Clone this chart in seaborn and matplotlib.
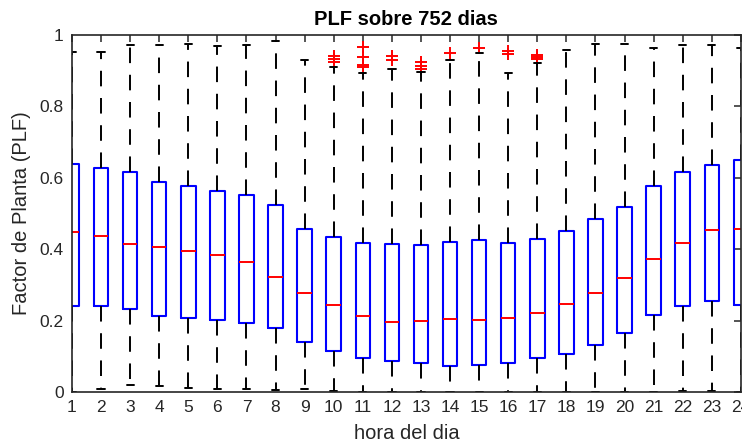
import numpy as np
import pandas as pd
import matplotlib
matplotlib.use("Agg")
import matplotlib.pyplot as plt
import seaborn as sns

# ------------------ DATA ------------------
hours = list(range(1, 25))
q1 = [0.241, 0.241, 0.233, 0.214, 0.208, 0.201, 0.193, 0.178, 0.140, 0.116, 0.094, 0.087,
      0.082, 0.073, 0.075, 0.082, 0.096, 0.106, 0.133, 0.166, 0.217, 0.240, 0.254, 0.244]
median = [0.447, 0.436, 0.414, 0.405, 0.394, 0.383, 0.364, 0.321, 0.276, 0.243, 0.214, 0.197,
          0.200, 0.205, 0.201, 0.207, 0.222, 0.246, 0.277, 0.320, 0.372, 0.417, 0.454, 0.456]
q3 = [0.639, 0.627, 0.617, 0.588, 0.577, 0.564, 0.553, 0.523, 0.457, 0.433, 0.418, 0.415,
      0.412, 0.419, 0.427, 0.418, 0.429, 0.451, 0.485, 0.519, 0.577, 0.616, 0.637, 0.651]
whisk_lo = [0.0, 0.008, 0.020, 0.016, 0.012, 0.008, 0.008, 0.006, 0.008, 0.003, 0.0, 0.0,
            0.0, 0.0, 0.0, 0.0, 0.0, 0.0, 0.0, 0.0, 0.0, 0.004, 0.004, 0.0]
whisk_hi = [0.953, 0.951, 0.972, 0.971, 0.974, 0.968, 0.973, 0.984, 0.930, 0.909, 0.892, 0.905,
            0.895, 0.931, 0.950, 0.892, 0.920, 0.958, 0.974, 0.974, 0.962, 0.972, 0.971, 0.962]

out_hours = [10, 10, 10, 11, 11, 11, 11, 12, 12, 13, 13, 13, 14, 15, 16, 16, 17, 17, 17]
out_vals = [0.941, 0.933, 0.925, 0.967, 0.939, 0.916, 0.911, 0.941, 0.930, 0.925, 0.914, 0.904,
            0.949, 0.963, 0.955, 0.946, 0.944, 0.938, 0.932]

# five points per hour -> quartiles land exactly on q1 / median / q3
rows = []
for i, h in enumerate(hours):
    for v in [whisk_lo[i], q1[i], median[i], q3[i], whisk_hi[i]]:
        rows.append([h, v])
df = pd.DataFrame(rows, columns=["hour", "plf"])

# ------------------ STYLE ------------------
sns.set_style("white")
plt.rcParams["font.family"] = ["Liberation Sans", "DejaVu Sans"]
txt = "#262626"

fig = plt.figure(figsize=(7.42, 4.42), dpi=100)
ax = fig.add_axes([0.097, 0.113, 0.9015, 0.808])

sns.boxplot(data=df, x="hour", y="plf", native_scale=True, width=0.5, whis=np.inf,
            fill=False, color="blue", linewidth=1.4, ax=ax,
            boxprops=dict(color="blue", linewidth=1.5),
            medianprops=dict(color="red", linewidth=1.4),
            whiskerprops=dict(color="black", linewidth=1.4, linestyle=(0, (8, 6))),
            capprops=dict(color="black", linewidth=1.4))

sns.scatterplot(x=out_hours, y=out_vals, marker="+", color="red", s=80,
                linewidth=1.4, legend=False, ax=ax)

# ------------------ AXES ------------------
ax.set_xlim(1, 24)
ax.set_ylim(0, 1)
ax.set_xticks(hours)
ax.set_xticklabels([str(h) for h in hours])
ax.set_yticks([0, 0.2, 0.4, 0.6, 0.8, 1])
ax.set_yticklabels(["0", "0.2", "0.4", "0.6", "0.8", "1"])
ax.tick_params(direction="in", length=5, width=1.1, colors=txt, labelsize=12.5,
               top=True, right=True, pad=6)
for s in ax.spines.values():
    s.set_color(txt)
    s.set_linewidth(1.2)
    s.set_visible(True)

ax.set_title("PLF sobre 752 dias", fontsize=14.5, fontweight="bold", color="black", pad=7)
ax.set_xlabel("hora del dia", fontsize=14.5, color=txt, labelpad=6)
ax.set_ylabel("Factor de Planta (PLF)", fontsize=14.5, color=txt, labelpad=6)

fig.savefig("out.png", dpi=100)
